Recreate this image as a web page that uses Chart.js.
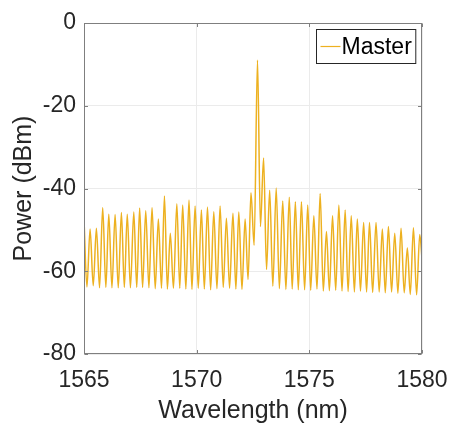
<!DOCTYPE html>
<html><head><meta charset="utf-8">
<script src="https://cdn.jsdelivr.net/npm/chart.js@4/dist/chart.umd.min.js"></script>
<style>html,body{margin:0;padding:0;background:#fff}canvas{display:block}</style>
</head><body>
<canvas id="c" width="452" height="426"></canvas>
<script>
const seriesLabel = 'Master';
const xTitle = 'Wavelength (nm)';
const yTitle = 'Power (dBm)';
const xTickValues = [1565, 1570, 1575, 1580];
const yTickValues = [-80, -60, -40, -20, 0];

// Spectrum: alternating comb peaks and troughs
const wavelength = [
  1565.00,1565.13,1565.27,1565.41,1565.55,1565.69,1565.83,1565.97,1566.10,1566.24,
  1566.38,1566.52,1566.66,1566.79,1566.92,1567.06,1567.21,1567.34,1567.47,1567.60,
  1567.74,1567.88,1568.02,1568.16,1568.30,1568.44,1568.57,1568.70,1568.83,1568.97,
  1569.12,1569.25,1569.38,1569.52,1569.66,1569.79,1569.93,1570.07,1570.21,1570.34,
  1570.48,1570.62,1570.76,1570.90,1571.04,1571.18,1571.32,1571.46,1571.61,1571.74,
  1571.87,1572.01,1572.15,1572.28,1572.41,1572.55,1572.70,1572.83,1572.97,1573.10,
  1573.24,1573.38,1573.53,1573.67,1573.82,1573.96,1574.11,1574.24,1574.38,1574.51,
  1574.65,1574.79,1574.93,1575.06,1575.20,1575.34,1575.48,1575.62,1575.76,1575.89,
  1576.03,1576.17,1576.31,1576.45,1576.59,1576.72,1576.86,1577.00,1577.13,1577.27,
  1577.41,1577.54,1577.67,1577.81,1577.96,1578.10,1578.24,1578.37,1578.51,1578.65,
  1578.79,1578.93,1579.07,1579.21,1579.35,1579.48,1579.62,1579.76,1579.90,1580.00
];
const power = [
  -47.4,-63.8,-49.8,-63.5,-49.6,-64.0,-44.6,-63.9,-46.2,-64.0,
  -46.3,-64.0,-45.8,-63.9,-46.2,-64.0,-45.7,-63.9,-44.7,-63.9,
  -45.4,-64.0,-44.6,-64.2,-47.4,-64.1,-41.8,-64.3,-50.8,-64.1,
  -43.7,-64.1,-44.0,-64.3,-42.8,-64.4,-44.2,-64.1,-45.2,-64.3,
  -44.5,-64.5,-45.6,-64.2,-44.2,-63.9,-47.2,-64.1,-46.0,-64.3,
  -45.7,-64.4,-47.4,-62.0,-41.0,-53.7,-9.0,-49.2,-32.6,-59.6,
  -40.4,-63.6,-39.9,-64.2,-43.0,-64.4,-42.1,-64.3,-43.2,-64.5,
  -43.2,-64.5,-44.0,-64.6,-46.6,-64.3,-41.2,-64.8,-50.4,-64.7,
  -46.6,-64.6,-44.0,-64.8,-45.2,-64.9,-46.6,-65.0,-47.4,-64.8,
  -48.2,-65.0,-48.2,-65.1,-48.2,-65.0,-49.8,-65.2,-49.2,-65.0,
  -50.8,-65.3,-49.6,-65.2,-54.4,-65.6,-49.5,-65.7,-51.1,-57.0
];

const FONT = '"Liberation Sans", Arial, Helvetica, sans-serif';
const AXIS_COLOR = '#262626';
const FRAME_COLOR = '#7f7f7f';

const framePlugin = {
  id: 'frame',
  afterDatasetsDraw(chart) {
    const ctx = chart.ctx, a = chart.chartArea;
    const xs = chart.scales.x, ys = chart.scales.y;
    ctx.save();
    ctx.strokeStyle = FRAME_COLOR;
    ctx.lineWidth = 1;
    const L = Math.round(a.left) + 0.5, R = Math.round(a.right) - 0.5;
    const T = Math.round(a.top) + 0.5, B = Math.round(a.bottom) - 0.5;
    ctx.strokeRect(L, T, R - L, B - T);
    const tl = 3.5;
    ctx.beginPath();
    xTickValues.forEach(v => {
      const px = Math.round(xs.getPixelForValue(v)) + 0.5;
      ctx.moveTo(px, B); ctx.lineTo(px, B - tl);
      ctx.moveTo(px, T); ctx.lineTo(px, T + tl);
    });
    yTickValues.forEach(v => {
      const py = Math.round(ys.getPixelForValue(v)) + 0.5;
      ctx.moveTo(L, py); ctx.lineTo(L + tl, py);
      ctx.moveTo(R, py); ctx.lineTo(R - tl, py);
    });
    ctx.stroke();

    // legend box (top-right, inside the axes)
    const ds = chart.data.datasets[0];
    ctx.font = '23px ' + FONT;
    const tw = ctx.measureText(ds.label).width;
    const w = 4 + 20 + 1 + tw + 4, h = 34;
    const bx = Math.round(a.right - 6.5 - w) + 0.5, by = Math.round(a.top + 5.5) + 0.5;
    ctx.fillStyle = '#ffffff';
    ctx.fillRect(bx, by, w, h);
    ctx.strokeStyle = AXIS_COLOR;
    ctx.strokeRect(bx, by, w, h);
    ctx.strokeStyle = ds.borderColor;
    ctx.lineWidth = 1.2;
    ctx.beginPath();
    ctx.moveTo(bx + 4, by + h / 2); ctx.lineTo(bx + 24, by + h / 2);
    ctx.stroke();
    ctx.fillStyle = '#000000';
    ctx.textBaseline = 'middle';
    ctx.textAlign = 'left';
    ctx.fillText(ds.label, bx + 25, by + h / 2 + 1);
    ctx.restore();
  }
};

new Chart(document.getElementById('c'), {
  type: 'line',
  data: {
    datasets: [{
      label: seriesLabel,
      data: wavelength.map((x, i) => ({ x: x, y: power[i] })),
      borderColor: '#EDB120',
      borderWidth: 1.5,
      pointRadius: 0,
      fill: false,
      cubicInterpolationMode: 'monotone'
    }]
  },
  options: {
    responsive: false,
    animation: false,
    devicePixelRatio: 1,
    layout: { padding: { top: 23, right: 30, left: 0, bottom: 0 } },
    plugins: { legend: { display: false }, tooltip: { enabled: false } },
    scales: {
      x: {
        type: 'linear', min: 1565, max: 1580,
        afterBuildTicks: s => { s.ticks = xTickValues.map(v => ({ value: v })); },
        afterFit: s => { s.height = 72; s.paddingLeft = 0; s.paddingRight = 0; },
        grid: { color: '#ebebeb', drawTicks: false },
        border: { display: false },
        ticks: { font: { family: FONT, size: 23 }, color: AXIS_COLOR, padding: 13, maxRotation: 0, autoSkip: false,
                 callback: v => String(v) },
        title: { display: true, text: xTitle, font: { family: FONT, size: 25 }, color: AXIS_COLOR, padding: { top: 0, bottom: 0 } }
      },
      y: {
        type: 'linear', min: -80, max: 0,
        afterBuildTicks: s => { s.ticks = yTickValues.map(v => ({ value: v })); },
        afterFit: s => { s.width = 84; },
        grid: { color: '#ebebeb', drawTicks: false },
        border: { display: false },
        ticks: { font: { family: FONT, size: 23 }, color: AXIS_COLOR, padding: 8, autoSkip: false,
                 callback: v => String(v) },
        title: { display: true, text: yTitle, font: { family: FONT, size: 25 }, color: AXIS_COLOR, padding: { top: 9, bottom: 0 } }
      }
    }
  },
  plugins: [framePlugin]
});
</script>
</body></html>
